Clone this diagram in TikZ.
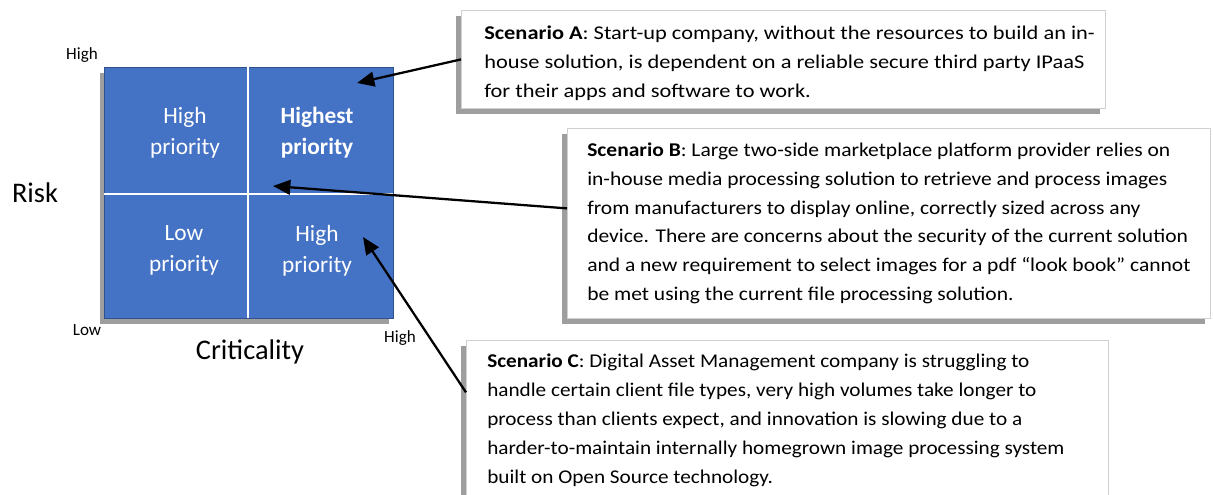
\documentclass[tikz,border=0pt]{standalone}
\usepackage{fontspec}
\setmainfont{Carlito}
\newfontfamily\fontA[FakeStretch=1.15]{Carlito}
\newfontfamily\fontB[FakeStretch=1.105]{Carlito}
\newfontfamily\fontC[FakeStretch=1.09]{Carlito}
\usetikzlibrary{arrows.meta,shadows}
\definecolor{qblue}{HTML}{4472C4}
\definecolor{qedge}{HTML}{2F528F}
\definecolor{shgray}{HTML}{9E9E9E}
\definecolor{boxedge}{HTML}{D0D0D0}
\begin{document}
\begin{tikzpicture}[x=0.75pt,y=-0.75pt,
  scenbox/.style={draw=boxedge, fill=white, line width=0.6pt, anchor=north west, inner sep=0pt,
    drop shadow={shadow xshift=-3.75pt, shadow yshift=-4.5pt, fill=shgray, opacity=1}},
  stext/.style={anchor=west, align=left, inner sep=0pt},
  quad/.style={text=white, align=center, font=\fontsize{17.5}{23.3}\selectfont},
  axsmall/.style={font=\fontsize{12.8}{15}\selectfont},
  axbig/.style={font=\fontsize{21.3}{25}\selectfont},
  arr/.style={line width=1.7pt, -{Triangle[length=13pt,width=11pt]}}]
\useasboundingbox (0,0) rectangle (1213,495);
% matrix
\node[draw=qedge, fill=qblue, line width=1.1pt, anchor=north west, inner sep=0pt,
  minimum width=216.75pt, minimum height=188.25pt,
  drop shadow={shadow xshift=-3.75pt, shadow yshift=-3.75pt, fill=shgray, opacity=1}] (M) at (104,67) {};
\coordinate (vt) at (248,67);
\coordinate (vb) at (248,318);
\coordinate (hl) at (104,194);
\coordinate (hr) at (393,194);
\draw[white, line width=1.1pt] (vt) -- (vb);
\draw[white, line width=1.1pt] (hl) -- (hr);
\node[quad] (q1) at (185,133) {High\\priority};
\node[quad, font=\fontsize{17.5}{23.3}\selectfont\bfseries] (q2) at (317,133) {Highest\\priority};
\node[quad] (q3) at (184,250) {Low\\priority};
\node[quad] (q4) at (317,251) {High\\priority};
% axes
\node[axsmall] (hy) at (82,55) {High};
\node[axsmall] (lo) at (87,330) {Low};
\node[axsmall] (hx) at (400,338) {High};
\node[axbig] (risk) at (35,193) {Risk};
\node[axbig] (crit) at (250,352) {Criticality};
% scenario boxes
\node[scenbox, minimum width=483pt, minimum height=73.5pt] (A) at (461,10) {};
\node[stext, font=\fontA\fontsize{14.6}{21.6}\selectfont] (At) at ([xshift=17.25pt,yshift=-3pt]A.west) {\textbf{Scenario A}: Start-up company, without the resources to build an in-\\house solution, is dependent on a reliable secure third party IPaaS\\for their apps and software to work.};
\node[scenbox, minimum width=482.25pt, minimum height=142.5pt] (B) at (567,128) {};
\node[stext, font=\fontB\fontsize{14.6}{21.6}\selectfont] (Bt) at ([xshift=15pt]B.west) {\textbf{Scenario B}: Large two-side marketplace platform provider relies on\\in-house media processing solution to retrieve and process images\\from manufacturers to display online, correctly sized across any\\device. There are concerns about the security of the current solution\\and a new requirement to select images for a pdf “look book” cannot\\be met using the current file processing solution.};
\node[scenbox, minimum width=481.5pt, minimum height=120pt] (C) at (466,340) {};
\node[stext, font=\fontC\fontsize{14.6}{21.6}\selectfont] (Ct) at ([xshift=15.75pt]C.west) {\textbf{Scenario C}: Digital Asset Management company is struggling to\\handle certain client file types, very high volumes take longer to\\process than clients expect, and innovation is slowing due to a\\harder-to-maintain internally homegrown image processing system\\built on Open Source technology.};
% arrows
\coordinate (tA) at (357,83);
\coordinate (tB) at (273,186);
\coordinate (tC) at (363,237);
\draw[arr] (A.west) -- (tA);
\draw[arr] ([yshift=11.25pt]B.west) -- (tB);
\draw[arr] ([yshift=21pt]C.west) -- (tC);
\end{tikzpicture}
\end{document}
